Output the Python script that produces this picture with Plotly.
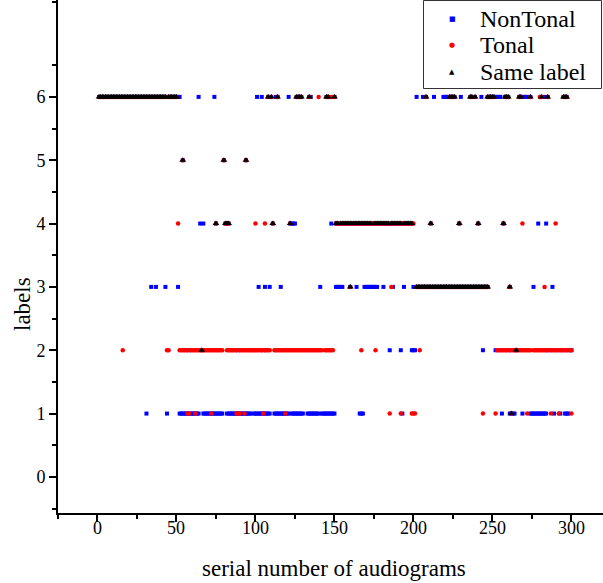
import plotly.graph_objects as go

# Audiograms whose NonTonal and Tonal labels agree, grouped by label
same_label6 = list(range(1, 44)) + [45, 46, 47, 48, 49, 50, 108, 110, 114, 126, 127, 128, 129,
                                    134, 145, 146, 150, 208, 223, 224, 225, 226, 236, 237, 239,
                                    247, 248, 249, 250, 251, 258, 259, 260, 267, 268, 274, 281,
                                    285, 295, 296, 297]
same_label5 = [54, 80, 94]
same_label4 = [75, 81, 82, 83, 111, 122, 151, 152, 154, 155, 156, 157, 158, 159, 160, 161, 162,
               163, 164, 165, 166, 167, 168, 169, 170, 171, 172, 173, 175, 176, 177, 178, 179,
               180, 181, 182, 183, 184, 186, 187, 188, 189, 190, 191, 192, 194, 195, 196, 197,
               198, 199, 211, 229, 241, 257]
same_label3 = [160, 202, 203, 204, 205, 206, 207, 208, 209, 210, 211, 212, 213, 214, 215, 216,
               217, 218, 219, 220, 221, 222, 223, 224, 225, 226, 227, 228, 229, 230, 231, 232,
               233, 234, 235, 236, 237, 238, 239, 240, 241, 242, 243, 244, 245, 246, 247, 261]
same_label2 = [66, 265]
same_label1 = [262]

# NonTonal labels that differ from the Tonal label
nontonal_label6 = [44, 51, 52, 64, 74, 101, 104, 113, 121, 135, 202, 206, 213, 219, 220, 221,
                   222, 230, 243, 252, 253, 254, 255, 269, 270, 271, 272, 283]
nontonal_label4 = [65, 67, 123, 124, 125, 148, 185, 279, 284]
nontonal_label3 = [34, 37, 43, 51, 102, 106, 109, 116, 141, 151, 152, 153, 154, 155, 164, 169,
                   170, 171, 172, 173, 174, 175, 176, 177, 181, 187, 194, 200, 276, 288]
nontonal_label2 = [58, 89, 105, 185, 192, 199, 200, 201, 244, 252, 260, 286, 292, 298, 300]
nontonal_label1 = [31, 44, 52, 53, 54, 55, 56, 57, 58, 59, 60, 61, 62, 63, 64, 67, 68, 69, 70,
                   71, 72, 73, 74, 75, 76, 77, 78, 79, 82, 83, 84, 85, 86, 87, 88, 89, 90, 91,
                   92, 93, 94, 95, 96, 97, 99, 100, 101, 102, 103, 104, 105, 106, 107, 108, 109,
                   112, 113, 114, 115, 116, 117, 118, 119, 120, 121, 123, 124, 125, 126, 127,
                   128, 129, 130, 133, 134, 135, 136, 137, 138, 139, 140, 142, 143, 144, 145,
                   146, 147, 148, 149, 150, 166, 167, 168, 193, 256, 261, 263, 264, 269, 274,
                   275, 276, 277, 278, 279, 280, 281, 282, 283, 284, 289, 293, 296, 297, 298]

# Tonal labels that differ from the NonTonal label
tonal_label6 = [140, 148, 280]
tonal_label4 = [51, 100, 106, 153, 174, 193, 200, 269, 290]
tonal_label3 = [186, 283]
tonal_label2 = [16, 44, 45, 52, 53, 54, 55, 56, 57, 59, 60, 61, 62, 63, 64, 65, 67, 68, 69, 70,
                71, 72, 73, 74, 75, 76, 77, 78, 79, 82, 83, 84, 85, 86, 87, 88, 90, 91, 92, 93,
                94, 95, 96, 97, 98, 99, 100, 101, 102, 103, 104, 106, 107, 108, 109, 112, 113,
                114, 115, 116, 117, 118, 119, 120, 121, 122, 123, 124, 125, 126, 127, 128, 129,
                130, 131, 132, 133, 134, 135, 136, 137, 138, 139, 140, 141, 142, 144, 145, 146,
                147, 148, 149, 167, 176, 204, 253, 254, 255, 256, 257, 258, 259, 261, 262, 263,
                264, 266, 267, 268, 269, 270, 271, 272, 273, 274, 276, 277, 278, 279, 280, 281,
                282, 283, 284, 285, 287, 288, 289, 290, 291, 293, 294, 295, 296, 297, 299, 300]
tonal_label1 = [57, 58, 62, 72, 88, 89, 90, 93, 105, 119, 185, 192, 199, 200, 201, 244, 252,
                272, 287, 292, 300]

label_values = [6, 5, 4, 3, 2, 1]
x_tick_values = [0, 50, 100, 150, 200, 250, 300]
y_tick_values = [0, 1, 2, 3, 4, 5, 6]

same_groups = [same_label6, same_label5, same_label4, same_label3, same_label2, same_label1]
nontonal_groups = [nontonal_label6, [], nontonal_label4, nontonal_label3, nontonal_label2,
                   nontonal_label1]
tonal_groups = [tonal_label6, [], tonal_label4, tonal_label3, tonal_label2, tonal_label1]

series_names = ["NonTonal", "Tonal", "Same label"]
series_colors = ["#0000ff", "#ff0000", "#000000"]
series_symbols = ["square", "circle", "triangle-up"]
series_sizes = [4, 4.5, 6]
key_glyphs = ["■", "●", "▲"]


def flatten(groups, extra=None):
    xs, ys = [], []
    for i, (lab, g) in enumerate(zip(label_values, groups)):
        pts = list(g) + (list(extra[i]) if extra else [])
        xs += pts
        ys += [lab] * len(pts)
    return xs, ys


# Matching audiograms carry both labels, so they also appear in each series
points = [flatten(nontonal_groups, same_groups),
          flatten(tonal_groups, same_groups),
          flatten(same_groups)]

font_family = "Liberation Serif, Times New Roman, serif"

# Figure geometry (pixels)
W, H = 603, 583
ML, MR, MT, MB = 58, 0, 0, 70
PW, PH = W - ML - MR, H - MT - MB


def px_x(px):
    return (px - ML) / PW


def px_y(py):
    return (H - MB - py) / PH


fig = go.Figure()
for (xs, ys), name, color, sym, size in zip(points, series_names, series_colors,
                                            series_symbols, series_sizes):
    fig.add_trace(go.Scatter(x=xs, y=ys, mode="markers", name=name, showlegend=False,
                             marker=dict(symbol=sym, size=size, color=color, line_width=0)))

annotations = []
# Legend box entries: key glyph plus series name
for i, (name, color, glyph) in enumerate(zip(series_names, series_colors, key_glyphs)):
    yc = px_y(19 + 26.5 * i)
    annotations.append(dict(text=glyph, xref="paper", yref="paper", x=px_x(452), y=yc,
                            xanchor="center", yanchor="middle", showarrow=False,
                            font=dict(size=7, color=color, family="DejaVu Sans")))
    annotations.append(dict(text=name, xref="paper", yref="paper", x=px_x(478), y=yc,
                            xanchor="left", yanchor="middle", showarrow=False,
                            font=dict(size=24, color="#000000", family=font_family)))
# x tick labels sit just under the tick marks
for v in x_tick_values:
    annotations.append(dict(text=str(v), xref="x", yref="paper", x=v, y=0,
                            xanchor="center", yanchor="middle", yshift=-15,
                            showarrow=False,
                            font=dict(size=18, color="#000000", family=font_family)))
# Axis titles
annotations.append(dict(text="serial number of audiograms", xref="paper", yref="paper",
                        x=px_x(334), y=px_y(568), xanchor="center", yanchor="middle",
                        showarrow=False,
                        font=dict(size=23, family=font_family, color="#000000")))
annotations.append(dict(text="labels", textangle=-90, xref="paper", yref="paper",
                        x=px_x(22), y=px_y(304), xanchor="center", yanchor="middle",
                        showarrow=False,
                        font=dict(size=23, family=font_family, color="#000000")))

fig.update_layout(
    width=W, height=H,
    margin=dict(l=ML, r=MR, t=MT, b=MB),
    plot_bgcolor="white", paper_bgcolor="white",
    font=dict(family=font_family, color="#000000", size=18),
    showlegend=False,
    annotations=annotations,
    shapes=[dict(type="rect", xref="paper", yref="paper",
                 x0=px_x(423.5), x1=px_x(601.5), y0=px_y(88.5), y1=px_y(0.5),
                 line=dict(color="#333333", width=1), fillcolor="rgba(0,0,0,0)",
                 layer="above")],
)
fig.update_xaxes(
    range=[-25, 320], tickmode="array", tickvals=x_tick_values, showticklabels=False,
    ticks="outside", ticklen=7, tickwidth=2, tickcolor="black",
    showline=True, linewidth=2, linecolor="black", showgrid=False, zeroline=False,
    minor=dict(tickvals=[-25, 25, 75, 125, 175, 225, 275], ticks="outside", ticklen=4,
               tickwidth=2, tickcolor="black", showgrid=False),
)
fig.update_yaxes(
    range=[-0.57, 7.53], tickmode="array", tickvals=y_tick_values,
    ticks="outside", ticklen=7, tickwidth=2, tickcolor="black",
    showline=True, linewidth=2, linecolor="black", showgrid=False, zeroline=False,
    minor=dict(tickvals=[-0.5, 0.5, 1.5, 2.5, 3.5, 4.5, 5.5, 6.5, 7.5], ticks="outside",
               ticklen=4, tickwidth=2, tickcolor="black", showgrid=False),
    tickfont=dict(size=18, family=font_family),
)

fig.write_html("out.html")
